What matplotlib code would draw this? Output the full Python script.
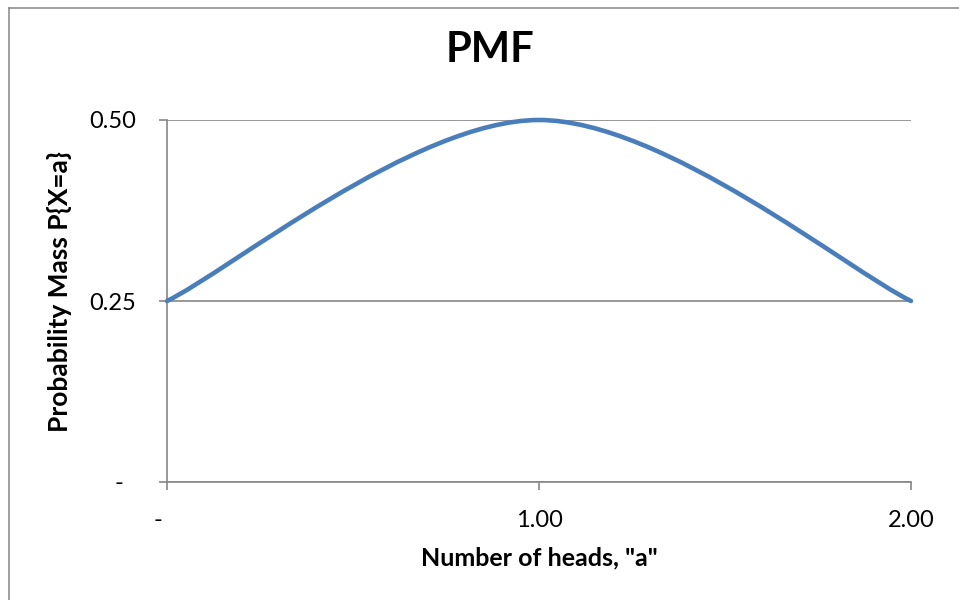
import matplotlib
matplotlib.use("Agg")
import matplotlib.pyplot as plt
from matplotlib.path import Path
from matplotlib.patches import PathPatch
from matplotlib.lines import Line2D
import numpy as np

# data
x_vals = [0.0, 1.0, 2.0]
pmf_vals = [0.25, 0.50, 0.25]
x_ticks = [0.0, 1.0, 2.0]
x_tick_labels = ["-   ", "1.00", "2.00"]
y_ticks = [0.0, 0.25, 0.50]
y_tick_labels = ["-  ", "0.25", "0.50"]
title = "PMF"
x_label = 'Number of heads, "a"'
y_label = "Probability Mass P{X=a}"

plt.rcParams['font.family'] = ['Lato', 'DejaVu Sans']

W, H = 959, 600
fig = plt.figure(figsize=(W / 100, H / 100), dpi=100)
L, R, T, B = 167, 911, 120, 482
ax = fig.add_axes([L / W, 1 - B / H, (R - L) / W, (B - T) / H])

gray = "#868686"
blue = "#4A7EBB"

# Excel-style smoothed line (Bezier through data points)
pts = np.column_stack([x_vals, pmf_vals])
n = len(pts)
verts = [pts[0]]
codes = [Path.MOVETO]
for i in range(n - 1):
    p_prev = pts[i - 1] if i > 0 else pts[i]
    p_next2 = pts[i + 2] if i + 2 < n else pts[i + 1]
    c1 = pts[i] + (pts[i + 1] - p_prev) / 6.0
    c2 = pts[i + 1] - (p_next2 - pts[i]) / 6.0
    verts += [c1, c2, pts[i + 1]]
    codes += [Path.CURVE4] * 3
patch = PathPatch(Path(verts, codes), facecolor="none", edgecolor=blue,
                  lw=3.3, capstyle="round", zorder=3, clip_on=False)
ax.add_patch(patch)

ax.set_xlim(0, 2)
ax.set_ylim(0, 0.5)
ax.set_xticks(x_ticks)
ax.set_xticklabels(x_tick_labels, fontsize=17)
ax.set_yticks(y_ticks)
ax.set_yticklabels(y_tick_labels, fontsize=17)
ax.yaxis.grid(True, color=gray, lw=1.2)
ax.set_axisbelow(True)
for s in ["top", "right"]:
    ax.spines[s].set_visible(False)
for s in ["left", "bottom"]:
    ax.spines[s].set_color(gray)
    ax.spines[s].set_linewidth(1.2)
ax.tick_params(axis="both", color=gray, width=1.2, length=5.5, direction="out")
ax.tick_params(axis="y", pad=17)
ax.tick_params(axis="x", pad=15)

ax.set_title(title, fontsize=30, fontweight="bold",
             x=(490 - L) / (R - L), y=(B - 58) / (B - T), va="center")
ax.set_xlabel(x_label, fontsize=18, fontweight="bold")
ax.xaxis.set_label_coords(0.5, (B - 558) / (B - T))
ax.xaxis.label.set_va("center")
ax.set_ylabel(y_label, fontsize=19, fontweight="bold")
ax.yaxis.set_label_coords((60 - L) / (R - L), 0.5 - (292 - (T + B) / 2) / (B - T))
ax.yaxis.label.set_va("center")

# chart area border (left and top)
fig.add_artist(Line2D([9 / W, 9 / W], [0, 1 - 8 / H], color=gray, lw=1.1, transform=fig.transFigure))
fig.add_artist(Line2D([9 / W, 1], [1 - 8 / H, 1 - 8 / H], color=gray, lw=1.1, transform=fig.transFigure))

fig.savefig("out.png", dpi=100)
